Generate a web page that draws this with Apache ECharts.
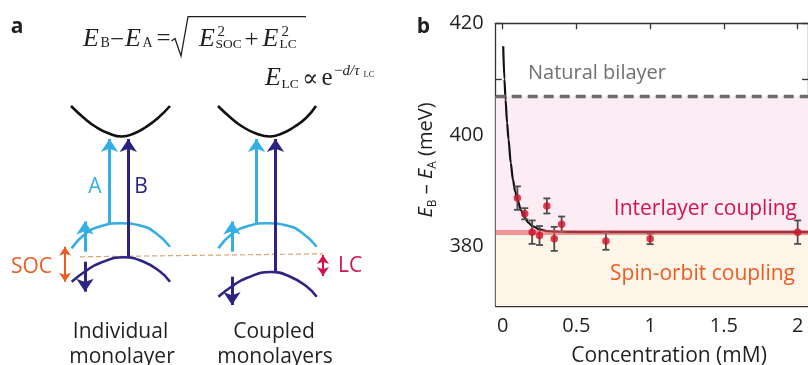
<!DOCTYPE html>
<html><head><meta charset="utf-8">
<script src="https://cdn.jsdelivr.net/npm/echarts@6/dist/echarts.min.js"></script>
<style>html,body{margin:0;padding:0;background:#fff}#c{width:808px;height:365px}</style>
</head><body><div id="c"></div>
<script>
// ===== Panel b data =====
const concentration = [0.1, 0.15, 0.2, 0.25, 0.3, 0.35, 0.4, 0.7, 1.0, 2.0];
const splitting     = [388.7, 385.9, 382.6, 382.0, 387.3, 381.4, 384.0, 381.0, 381.4, 382.6];
const errorBar      = [2.1, 1.0, 2.1, 1.7, 1.35, 2.15, 1.4, 1.55, 0.95, 2.1];
const fitConc  = [0.004, 0.012, 0.02, 0.03, 0.04, 0.055, 0.07, 0.085, 0.1, 0.125, 0.15, 0.175, 0.2, 0.25, 0.3, 0.4, 0.6, 1.0, 1.5, 2.07];
const fitValue = [415.9, 410.0, 406.3, 402.2, 399.2, 395.0, 392.0, 389.9, 388.4, 386.5, 385.2, 384.3, 383.7, 383.1, 382.8, 382.65, 382.6, 382.6, 382.6, 382.6];
const naturalBilayer = 407.0;
const socLevel = 382.6;
const xTicks = [0, 0.5, 1, 1.5, 2];
const yTicks = [380, 390, 400, 410, 420];
const yLabels = [380, 400, 420];

// ===== Panel a schematic geometry (diagram units, y downward) =====
const condLeft   = [[71,106],[84,118],[96,127],[109,133.5],[121.7,136.5],[134,133.5],[146,127],[158,118],[170,106]];
const condRight  = [[218,106],[231,118],[243,127],[256,133.5],[270,136.5],[282,133.5],[294,127],[306,118],[316,106]];
const valAleft   = [[71.7,248.3],[85,234],[100,226.5],[120,223.3],[140,225.5],[155,232.5],[170,246.7]];
const valAright  = [[218.4,248.3],[231.7,234],[246.7,226.5],[266.7,223.3],[286.7,225.5],[301.7,232.5],[316.7,246.7]];
const valBleft   = [[71.7,281.7],[85,271.5],[100,263],[124,257.3],[143,261.5],[160,271.5],[170,281.7]];
const valBright  = [[218.4,296.7],[231.7,286.5],[246.7,278],[271,272],[289.7,276.5],[306.7,286.5],[316.7,296.7]];
const guideLine  = [[80,256.8],[323,253.8]];
const arrowsA    = [[[109.5,223.5],[109.5,139]], [[256.5,223.5],[256.5,139]]];
const arrowsB    = [[[128.3,257.5],[128.3,139]], [[275.5,272.5],[275.5,139]]];
const spinUp     = [[[85,251.7],[85,221.5]], [[232,251.7],[232,221.5]]];
const spinDown   = [[[85,261.7],[85,291.7]], [[232,276.7],[232,305]]];
const socArrow   = [[[65,246.7],[65,281.7]]];
const lcArrow    = [[[323,255],[323,276]]];

const LIGHT = '#35aee3', DARK = '#2c2382', ORANGE = '#ee5b22', CRIMSON = '#d4124e', INK = '#231f20';
const SANS = '"Open Sans", "Noto Sans", sans-serif';
const SERIF = '"Liberation Serif", "DejaVu Serif", serif';

function curve(data, color) {
  return { type: 'line', xAxisIndex: 0, yAxisIndex: 0, data: data, smooth: true, showSymbol: false,
    lineStyle: { color: color, width: 2.6 }, silent: true, z: 2 };
}
function arrows(data, color, sym, size, width) {
  return { type: 'lines', coordinateSystem: 'cartesian2d', xAxisIndex: 0, yAxisIndex: 0,
    data: data.map(c => ({ coords: c })), symbol: sym, symbolSize: size,
    lineStyle: { color: color, width: width, opacity: 1, curveness: 0 },
    itemStyle: { color: color }, silent: true, z: 3 };
}
function txt(x, y, text, font, fill, align, extra) {
  return Object.assign({ type: 'text', x: x, y: y, z: 100, silent: true,
    style: { text: text, font: font, fill: fill, align: align || 'left', verticalAlign: 'middle' } }, extra || {});
}

const graphics = [
  txt(17, 27, 'a', 'bold 21px ' + SANS, INK, 'center'),
  txt(423.5, 27, 'b', 'bold 21px ' + SANS, INK, 'center'),
  // formula 1
  txt(83, 39.3, 'E', 'italic 26px ' + SERIF, INK),
  txt(100.5, 43, 'B', '14px ' + SERIF, INK),
  txt(117, 40, '\u2212', '25px ' + SERIF, INK, 'center'),
  txt(125, 39.3, 'E', 'italic 26px ' + SERIF, INK),
  txt(142.5, 43, 'A', '14px ' + SERIF, INK),
  txt(163.5, 39.5, '=', '25px ' + SERIF, INK, 'center'),
  { type: 'polyline', z: 100, silent: true, shape: { points: [[171.5,41],[175,38.5],[181,56],[188,16.7],[306,16.7]] },
    style: { stroke: INK, lineWidth: 1.3, fill: null } },
  txt(199, 39.3, 'E', 'italic 26px ' + SERIF, INK),
  txt(217.5, 32.5, '2', '15px ' + SERIF, INK),
  txt(215.5, 44.5, 'SOC', '13.5px ' + SERIF, INK),
  txt(251.5, 40, '+', '25px ' + SERIF, INK, 'center'),
  txt(262.5, 39.3, 'E', 'italic 26px ' + SERIF, INK),
  txt(281.5, 32.5, '2', '15px ' + SERIF, INK),
  txt(279.5, 44.5, 'LC', '13.5px ' + SERIF, INK),
  // formula 2
  txt(265, 78.5, 'E', 'italic 26px ' + SERIF, INK),
  txt(281.5, 84, 'LC', '13.5px ' + SERIF, INK),
  txt(310, 80, '\u221D', '24px ' + SERIF, INK, 'center'),
  txt(321.5, 78.3, 'e', '25px ' + SERIF, INK),
  { type: 'text', x: 334, y: 71.5, z: 100, silent: true,
    style: { text: '{r|\u2212}{i|d/\u03C4}', verticalAlign: 'middle', align: 'left', fill: INK,
      rich: { r: { fontSize: 15, fontFamily: SERIF, fill: INK }, i: { fontSize: 15, fontStyle: 'italic', fontFamily: SERIF, fill: INK } } } },
  txt(363.5, 75, 'LC', '8.5px ' + SERIF, INK),
  // panel a labels
  txt(95, 187.5, 'A', '21px ' + SANS, LIGHT, 'center'),
  txt(141, 187.5, 'B', '21px ' + SANS, DARK, 'center'),
  txt(11, 267, 'SOC', '21px ' + SANS, ORANGE),
  txt(338, 266, 'LC', '21px ' + SANS, CRIMSON),
  txt(120.5, 332.5, 'Individual', '21px ' + SANS, INK, 'center'),
  txt(122, 357.5, 'monolayer', '21px ' + SANS, INK, 'center'),
  txt(274, 332.5, 'Coupled', '21px ' + SANS, INK, 'center'),
  txt(275, 357.5, 'monolayers', '21px ' + SANS, INK, 'center'),
  // panel b labels
  txt(528, 73, 'Natural bilayer', '20px ' + SANS, '#707070'),
  txt(797, 209, 'Interlayer coupling', '21px ' + SANS, CRIMSON, 'right'),
  txt(795, 274, 'Spin-orbit coupling', '21px ' + SANS, ORANGE, 'right'),
  txt(669, 356, 'Concentration (mM)', '21px ' + SANS, INK, 'center'),
  { type: 'text', x: 426, y: 160, rotation: Math.PI / 2, z: 100, silent: true,
    style: { text: '{i|E}{s|B}{n| \u2013 }{i|E}{s|A}{n| (meV)}', align: 'center', verticalAlign: 'middle', fill: INK,
      rich: {
        i: { fontSize: 20, fontStyle: 'italic', fontFamily: SANS, lineHeight: 25, fill: INK },
        n: { fontSize: 20, fontFamily: SANS, lineHeight: 25, fill: INK },
        s: { fontSize: 12, fontFamily: SANS, lineHeight: 14, verticalAlign: 'bottom', fill: INK }
      } } }
];

const axisLineStyle = { color: '#333', width: 1.3 };
const option = {
  animation: false,
  backgroundColor: '#fff',
  grid: [
    { left: 0, top: 0, width: 400, height: 365, show: false },
    { left: 495.7, top: 23.3, width: 314.4, height: 282.7, show: false }
  ],
  xAxis: [
    { gridIndex: 0, type: 'value', min: 0, max: 400, show: false },
    { gridIndex: 1, type: 'value', min: -0.047, max: 2.07, position: 'bottom',
      axisLine: { show: true, onZero: false, lineStyle: axisLineStyle },
      axisTick: { show: true, inside: true, length: 6, customValues: xTicks, lineStyle: axisLineStyle },
      axisLabel: { customValues: xTicks, margin: 10, fontSize: 20, fontFamily: SANS, color: INK },
      splitLine: { show: false } },
    { gridIndex: 1, type: 'value', min: -0.047, max: 2.07, position: 'top',
      axisLine: { show: true, onZero: false, lineStyle: axisLineStyle },
      axisTick: { show: true, inside: true, length: 6, customValues: xTicks, lineStyle: axisLineStyle },
      axisLabel: { show: false }, splitLine: { show: false } }
  ],
  yAxis: [
    { gridIndex: 0, type: 'value', min: 0, max: 365, inverse: true, show: false },
    { gridIndex: 1, type: 'value', min: 369.38, max: 420, position: 'left',
      axisLine: { show: true, onZero: false, lineStyle: axisLineStyle },
      axisTick: { show: true, inside: true, length: 6, customValues: yTicks, lineStyle: axisLineStyle },
      axisLabel: { customValues: yLabels, margin: 12, fontSize: 20, fontFamily: SANS, color: INK },
      splitLine: { show: false } },
    { gridIndex: 1, type: 'value', min: 369.38, max: 420, position: 'right',
      axisLine: { show: true, onZero: false, lineStyle: axisLineStyle },
      axisTick: { show: true, inside: true, length: 6, customValues: yTicks, lineStyle: axisLineStyle },
      axisLabel: { show: false }, splitLine: { show: false } }
  ],
  series: [
    // panel a schematic
    curve(condLeft, '#111'), curve(condRight, '#111'),
    curve(valAleft, LIGHT), curve(valAright, LIGHT),
    curve(valBleft, DARK), curve(valBright, DARK),
    { type: 'line', xAxisIndex: 0, yAxisIndex: 0, data: guideLine, showSymbol: false, silent: true, z: 1,
      lineStyle: { color: '#d9a574', width: 1.2, type: [5, 3] } },
    arrows(arrowsA, LIGHT, ['none', 'arrow'], 13, 3),
    arrows(arrowsB, DARK, ['none', 'arrow'], 13, 3),
    arrows(spinUp, LIGHT, ['none', 'arrow'], 13, 3),
    arrows(spinDown, DARK, ['none', 'arrow'], 13, 3),
    arrows(socArrow, ORANGE, ['arrow', 'arrow'], 9, 2),
    arrows(lcArrow, CRIMSON, ['arrow', 'arrow'], 9, 2),
    // panel b: background bands
    { type: 'line', xAxisIndex: 1, yAxisIndex: 1, data: [], z: 0, silent: true,
      markArea: { silent: true, itemStyle: { opacity: 1 }, data: [
        [{ yAxis: socLevel, itemStyle: { color: '#fcedf5' } }, { yAxis: naturalBilayer }],
        [{ yAxis: 369.38, itemStyle: { color: '#fef5e9' } }, { yAxis: socLevel }]
      ] } },
    { type: 'line', xAxisIndex: 1, yAxisIndex: 1, data: [], z: 1, silent: true,
      markLine: { silent: true, symbol: ['none', 'none'], label: { show: false }, animation: false, data: [
        { yAxis: naturalBilayer, lineStyle: { color: '#6b6b6b', width: 3.3, type: [10, 6] } },
        { yAxis: socLevel, lineStyle: { color: 'rgba(232,85,90,0.6)', width: 5, type: 'solid' } }
      ] } },
    { type: 'line', xAxisIndex: 1, yAxisIndex: 1, z: 3, silent: true, smooth: 0.3, smoothMonotone: 'x',
      showSymbol: false, lineStyle: { color: '#111', width: 2.2 },
      data: fitConc.map((c, i) => [c, fitValue[i]]) },
    { type: 'custom', xAxisIndex: 1, yAxisIndex: 1, z: 4, silent: true,
      data: concentration.map((c, i) => [c, splitting[i], errorBar[i]]),
      renderItem: function (params, api) {
        const x = api.value(0), y = api.value(1), e = api.value(2);
        const t = api.coord([x, y + e]), b = api.coord([x, y - e]);
        const hw = 3.5, st = { stroke: '#4d4d4d', lineWidth: 1.8 };
        return { type: 'group', children: [
          { type: 'line', shape: { x1: t[0], y1: t[1], x2: b[0], y2: b[1] }, style: st },
          { type: 'line', shape: { x1: t[0] - hw, y1: t[1], x2: t[0] + hw, y2: t[1] }, style: st },
          { type: 'line', shape: { x1: b[0] - hw, y1: b[1], x2: b[0] + hw, y2: b[1] }, style: st }
        ] };
      } },
    { type: 'scatter', xAxisIndex: 1, yAxisIndex: 1, z: 5, silent: true, symbolSize: 7.5,
      itemStyle: { color: '#d0112b' }, data: concentration.map((c, i) => [c, splitting[i]]) }
  ],
  graphic: { elements: graphics }
};
const chart = echarts.init(document.getElementById('c'));
chart.setOption(option);
</script>
</body></html>
